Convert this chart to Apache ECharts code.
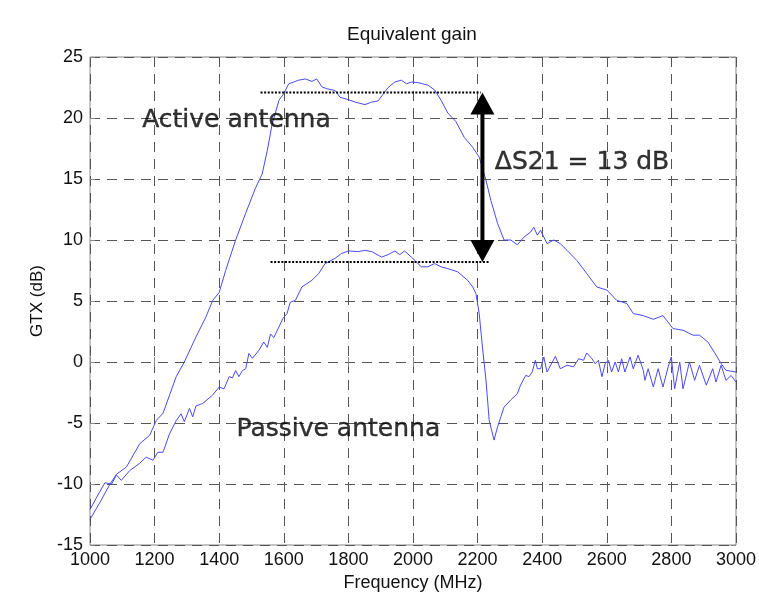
<!DOCTYPE html>
<html>
<head>
<meta charset="utf-8">
<script src="https://cdn.jsdelivr.net/npm/echarts@6/dist/echarts.min.js"></script>
<style>
html,body{margin:0;padding:0;background:#fff;overflow:hidden;}
#chart{width:759px;height:597px;}
</style>
</head>
<body>
<div id="chart"></div>
<script>
// Active antenna: frequency (MHz) and gain (dB)
var activeFreq = [1000,1031,1062,1082,1113,1154,1185,1205,1226,1267,1292,1328,1359,1380,1400,1420,1451,1482,1513,1533,1549,1564,1585,1600,1615,1646,1667,1687,1702,1718,1733,1759,1774,1800,1821,1851,1872,1892,1923,1944,1964,1980,1995,2015,2046,2067,2087,2108,2133,2159,2185,2205,2226,2241,2262,2282,2303,2323,2344,2364,2374,2385,2395,2415,2436,2456,2477,2508,2538,2569,2600,2631,2662,2682,2713,2744,2774,2805,2836,2867,2887,2913,2933,2954,2969,3000];
var activeGain = [-12.9,-11.5,-10.0,-9.2,-8.6,-6.7,-6.0,-4.8,-4.2,-1.2,0.0,2.05,3.7,5.05,5.7,7.5,10.0,12.2,14.3,15.4,17.35,19.5,21.45,22.0,22.8,23.1,23.2,23.0,23.2,22.55,22.4,22.25,21.7,21.5,21.3,21.1,21.3,21.4,22.5,22.95,23.1,22.8,22.95,22.9,22.7,22.3,21.45,20.4,19.7,18.4,17.6,16.8,14.9,13.25,11.35,10.0,10.0,9.6,10.25,10.65,11.05,10.4,10.8,9.7,10.0,9.7,9.15,8.3,7.25,6.15,5.9,5.05,4.8,3.97,3.8,3.5,3.8,2.74,2.6,2.2,2.2,1.64,0.8,-0.13,-0.68,-0.82];

// Passive antenna
var passiveFreq = [1000,1021,1046,1067,1082,1097,1123,1154,1174,1195,1210,1226,1246,1267,1282,1292,1308,1318,1328,1349,1380,1400,1415,1431,1441,1451,1461,1472,1482,1492,1503,1523,1538,1549,1559,1569,1585,1597,1610,1620,1636,1656,1687,1708,1728,1759,1779,1800,1831,1851,1872,1903,1923,1944,1959,1974,1995,2026,2046,2067,2087,2108,2138,2169,2185,2195,2205,2215,2226,2236,2251,2262,2282,2303,2323,2333,2349,2359,2369,2379,2385,2395,2405,2415,2441,2456,2477,2497,2513,2528,2538,2554,2564,2574,2585,2595,2605,2615,2626,2636,2646,2656,2672,2682,2697,2713,2718,2728,2744,2759,2774,2790,2800,2810,2826,2836,2856,2872,2887,2908,2928,2938,2954,2969,2985,3000];
var passiveGain = [-12.1,-11.07,-9.9,-10.0,-9.27,-9.7,-8.9,-8.3,-7.8,-8.05,-7.4,-7.4,-5.9,-4.8,-4.25,-4.9,-3.8,-4.5,-3.6,-3.4,-2.7,-2.05,-2.2,-1.2,-1.3,-0.7,-1.2,-0.7,-0.55,0.7,0.3,0.96,1.64,1.2,2.3,2.0,2.87,3.56,3.97,4.9,5.05,6.15,6.7,7.25,8.07,8.5,8.9,9.1,9.05,9.15,9.05,8.6,8.8,9.1,8.8,9.1,8.6,7.8,7.8,8.07,7.8,7.65,7.4,6.7,6.15,5.6,3.97,1.23,-1.5,-4.8,-6.4,-5.3,-3.7,-3.1,-2.6,-1.9,-1.1,-1.2,-0.82,0.14,-0.55,-0.55,0.41,-0.82,0.47,-0.55,-0.27,-0.4,0.27,0.14,0.74,0.27,-0.14,0.14,-1.2,-0.14,0.14,-0.82,0.0,-0.82,0.27,-0.82,0.41,-0.55,0.55,-0.68,-1.5,-0.55,-2.05,-0.55,-2.05,-0.4,0.41,-2.2,0.0,-2.2,0.0,-1.5,-0.27,-1.9,-0.55,-1.64,-0.27,-1.5,-1.1,-1.64];

// Annotation levels
var topLevelFreq = [1528, 2210];
var topLevelGain = [22.1, 22.1];
var bottomLevelFreq = [1559, 2236];
var bottomLevelGain = [8.2, 8.2];
var arrowFreq = 2215;
var arrowGain = [22.1, 8.2];

// Text annotations: [freq, gain, text]
var annotations = [
  [1163, 19.75, 'Active antenna'],
  [1455, -5.6, 'Passive antenna'],
  [2255, 16.3, '\u0394S21 = 13 dB']
];

var xTicks = {min: 1000, max: 3000, interval: 200};
var yTicks = {min: -15, max: 25, interval: 5};

function zip(a, b) { return a.map(function (v, i) { return [v, b[i]]; }); }

var chart = echarts.init(document.getElementById('chart'), null, {renderer: 'canvas', width: 759, height: 597});
var LINE = '#4a4af0';
var FONT = '"Liberation Sans", Arial, sans-serif';

var baseAxisLine = {show: false};
var splitLine = {show: true, lineStyle: {color: '#555', width: 1, type: [10, 7]}};
var plainLabel = function (v) { return String(v); };

chart.setOption({
  animation: false,
  backgroundColor: '#fff',
  title: {
    text: 'Equivalent gain',
    left: 347, top: 25, padding: 0,
    textStyle: {fontFamily: FONT, fontSize: 19, fontWeight: 'normal', color: '#111'}
  },
  grid: {left: 90, right: 19, top: 57, bottom: 52, show: true, borderColor: '#888', borderWidth: 1, backgroundColor: '#fff'},
  xAxis: [{
    type: 'value', min: xTicks.min, max: xTicks.max, interval: xTicks.interval,
    name: 'Frequency (MHz)', nameLocation: 'middle', nameGap: 27,
    nameTextStyle: {fontFamily: FONT, fontSize: 18, color: '#111'},
    axisLine: baseAxisLine,
    axisTick: {show: true, inside: true, length: 5, lineStyle: {color: '#888'}},
    axisLabel: {fontFamily: FONT, fontSize: 18, color: '#111', margin: 6, formatter: plainLabel},
    splitLine: splitLine
  }, {
    type: 'value', position: 'top', min: xTicks.min, max: xTicks.max, interval: xTicks.interval,
    axisLine: baseAxisLine, axisLabel: {show: false}, splitLine: {show: false},
    axisTick: {show: true, inside: true, length: 5, lineStyle: {color: '#888'}}
  }],
  yAxis: [{
    type: 'value', min: yTicks.min, max: yTicks.max, interval: yTicks.interval,
    name: 'GTX (dB)', nameLocation: 'middle', nameGap: 40,
    nameTextStyle: {fontFamily: FONT, fontSize: 17, color: '#111'},
    axisLine: baseAxisLine,
    axisTick: {show: true, inside: true, length: 5, lineStyle: {color: '#888'}},
    axisLabel: {fontFamily: FONT, fontSize: 18, color: '#111', margin: 7, formatter: plainLabel},
    splitLine: splitLine
  }, {
    type: 'value', position: 'right', min: yTicks.min, max: yTicks.max, interval: yTicks.interval,
    axisLine: baseAxisLine, axisLabel: {show: false}, splitLine: {show: false},
    axisTick: {show: true, inside: true, length: 5, lineStyle: {color: '#888'}}
  }],
  series: [
    {type: 'line', name: 'Active', data: zip(activeFreq, activeGain), showSymbol: false, symbol: 'none',
     lineStyle: {color: LINE, width: 1}, silent: true, z: 3},
    {type: 'line', name: 'Passive', data: zip(passiveFreq, passiveGain), showSymbol: false, symbol: 'none',
     lineStyle: {color: LINE, width: 1}, silent: true, z: 3},
    {type: 'line', data: zip(topLevelFreq, topLevelGain), symbol: 'none',
     lineStyle: {color: '#000', width: 2, type: [2, 1.6]}, silent: true, z: 4},
    {type: 'line', data: zip(bottomLevelFreq, bottomLevelGain), symbol: 'none',
     lineStyle: {color: '#000', width: 2, type: [2, 1.6]}, silent: true, z: 4},
    {type: 'line', data: [[arrowFreq, arrowGain[0] - 1.2], [arrowFreq, arrowGain[1] + 1.2]], symbol: 'none',
     lineStyle: {color: '#000', width: 4}, silent: true, z: 5},
    {type: 'scatter', data: [[arrowFreq, arrowGain[0]]], symbol: 'triangle', symbolSize: [24, 22],
     symbolOffset: [0, 11], itemStyle: {color: '#000', opacity: 1}, silent: true, z: 6},
    {type: 'scatter', data: [[arrowFreq, arrowGain[1]]], symbol: 'triangle', symbolSize: [24, 22],
     symbolRotate: 180, symbolOffset: [0, -11], itemStyle: {color: '#000', opacity: 1}, silent: true, z: 6},
    {type: 'scatter', data: annotations, symbolSize: 1, itemStyle: {color: 'rgba(0,0,0,0)'}, silent: true, z: 7,
     label: {show: true, position: [0, 0], align: 'left', verticalAlign: 'middle',
       formatter: function (p) { return p.data[2]; },
       fontFamily: '"DejaVu Sans", sans-serif', fontSize: 25, color: '#000',
       textBorderColor: '#000', textBorderWidth: 0.4}}
  ]
});
</script>
</body>
</html>
